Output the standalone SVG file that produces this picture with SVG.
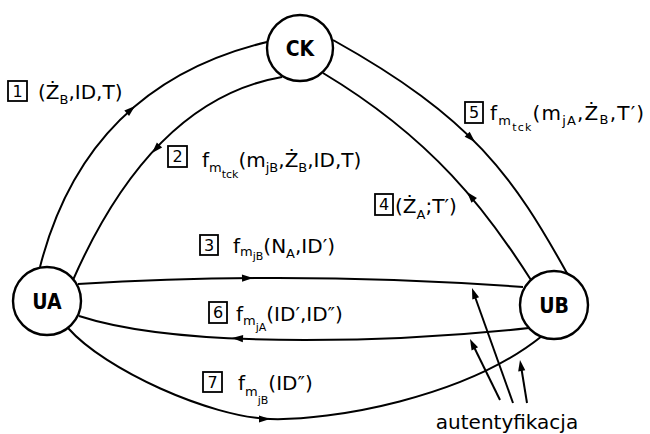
<svg xmlns="http://www.w3.org/2000/svg" xmlns:xlink="http://www.w3.org/1999/xlink" width="650" height="434" viewBox="0 0 650 434">
<style>
.node circle{fill:#fff;stroke:#000;stroke-width:2.4}
.node text{font-family:"DejaVu Sans Condensed","DejaVu Sans",sans-serif;font-weight:bold;font-size:21px;text-anchor:middle;fill:#000}
.con path,.con line{fill:none;stroke:#000;stroke-width:2}
.lb{font-family:"DejaVu Sans",sans-serif;font-size:20px;fill:#000}
.s{font-size:13px}
.ss{font-size:11px}
.box{fill:none;stroke:#000;stroke-width:1.8}
.dg{font-family:"DejaVu Sans",sans-serif;font-size:16px;text-anchor:middle;fill:#000}
</style>
<defs>
<path id="ah" d="M0,0 L-11,-3.6 L-11,3.6 Z" fill="#000"/>
</defs>
<rect width="650" height="434" fill="#fff"/>
<g id="connectors" class="con">
<path d="M40,267 Q86.5,85.5 267,42"/>
<use xlink:href="#ah" transform="translate(135,106) rotate(-41)"/>
<path d="M282,77 Q152.5,99.5 73,280"/>
<use xlink:href="#ah" transform="translate(152,153) rotate(133)"/>
<path d="M333,40 C473,118 513,176 568,275"/>
<use xlink:href="#ah" transform="translate(475,142) rotate(44.6)"/>
<path d="M323,73 C433,139 487,211 531,280"/>
<use xlink:href="#ah" transform="translate(467,192) rotate(-131)"/>
<path d="M78,284 Q299.5,270.5 523,287"/>
<use xlink:href="#ah" transform="translate(253,278) rotate(-1)"/>
<path d="M529,328 C420,340 190,352 79,316"/>
<use xlink:href="#ah" transform="translate(232,338) rotate(-177)"/>
<path d="M68,328 C105,370 210,417 270,419 C330,421 465,398 542,336"/>
<use xlink:href="#ah" transform="translate(270,419) rotate(0)"/>
<line x1="500" y1="400" x2="473" y2="345"/>
<use xlink:href="#ah" transform="translate(470,339) rotate(-116)"/>
<line x1="513" y1="403" x2="474" y2="294"/>
<use xlink:href="#ah" transform="translate(472,288) rotate(-109.6)"/>
<line x1="527" y1="403" x2="521" y2="366"/>
<use xlink:href="#ah" transform="translate(520,360) rotate(-99)"/>
</g>
<g id="CK" class="node"><circle cx="300" cy="48" r="33"/><text x="300" y="56">CK</text></g>
<g id="UA" class="node"><circle cx="47" cy="301" r="34"/><text x="47" y="309">UA</text></g>
<g id="UB" class="node"><circle cx="554" cy="305" r="34"/><text x="554" y="313">UB</text></g>
<g id="labels">
<g id="label1"><rect class="box" x="8" y="81" width="19" height="20"/><text class="dg" x="17.5" y="97">1</text>
<text class="lb" x="38" y="99">(Ż<tspan class="s" dy="5">B</tspan><tspan dy="-5">,ID,T)</tspan></text></g>
<g id="label2"><rect class="box" x="168" y="146" width="19" height="21"/><text class="dg" x="177.5" y="162">2</text>
<text class="lb" x="202" y="167">f<tspan class="s" dy="5">m</tspan><tspan class="ss" dy="6">tck</tspan><tspan dy="-11">(m</tspan><tspan class="s" dy="5">jB</tspan><tspan dy="-5">,Ż</tspan><tspan class="s" dy="5">B</tspan><tspan dy="-5">,ID,T)</tspan></text></g>
<g id="label3"><rect class="box" x="200" y="235" width="18" height="20"/><text class="dg" x="209" y="251">3</text>
<text class="lb" x="233" y="253">f<tspan class="s" dy="3">m</tspan><tspan class="ss" dy="4">jB</tspan><tspan dy="-7">(N</tspan><tspan class="s" dy="5">A</tspan><tspan dy="-5">,ID′)</tspan></text></g>
<g id="label4"><rect class="box" x="375" y="194" width="18" height="21"/><text class="dg" x="384" y="210">4</text>
<text class="lb" x="395" y="213">(Ż<tspan class="s" dy="6">A</tspan><tspan dy="-6">;T′)</tspan></text></g>
<g id="label5"><rect class="box" x="465" y="102" width="18" height="21"/><text class="dg" x="474" y="118">5</text>
<text class="lb" x="490" y="120" letter-spacing="1.2">f<tspan class="s" dy="5">m</tspan><tspan class="ss" dy="6">tck</tspan><tspan dy="-11">(m</tspan><tspan class="s" dy="5">jA</tspan><tspan dy="-5">,Ż</tspan><tspan class="s" dy="4">B</tspan><tspan dy="-4">,T′)</tspan></text></g>
<g id="label6"><rect class="box" x="209" y="302" width="18" height="21"/><text class="dg" x="218" y="318">6</text>
<text class="lb" x="236" y="321">f<tspan class="s" dy="4">m</tspan><tspan class="ss" dy="6">jA</tspan><tspan dy="-10">(ID′,ID″)</tspan></text></g>
<g id="label7"><rect class="box" x="203" y="372" width="19" height="20"/><text class="dg" x="212.5" y="388">7</text>
<text class="lb" x="238" y="390">f<tspan class="s" dy="6">m</tspan><tspan class="ss" dy="8">jB</tspan><tspan dy="-14">(ID″)</tspan></text></g>
<text id="auth" class="lb" x="507" y="429" text-anchor="middle">autentyfikacja</text>
</g>
</svg>
